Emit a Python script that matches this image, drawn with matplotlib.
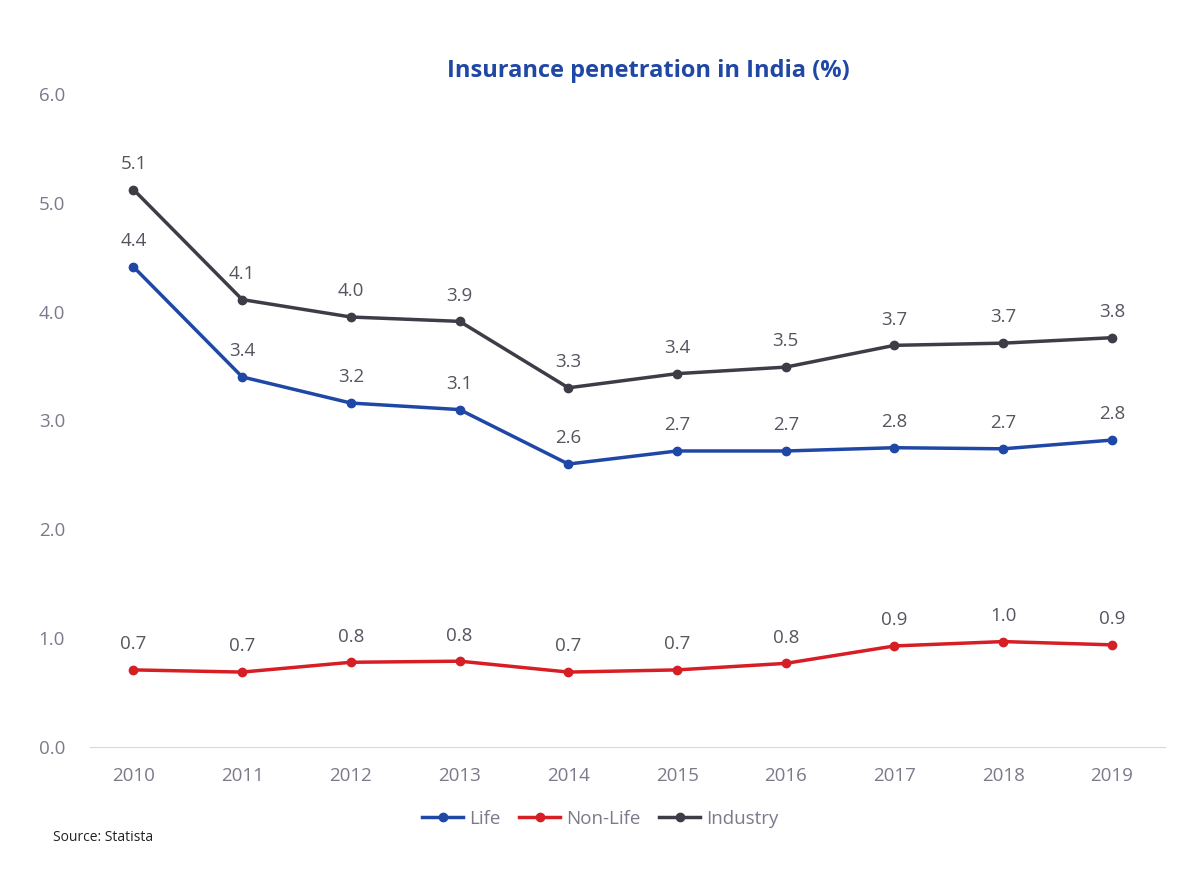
import matplotlib
matplotlib.use("Agg")
import matplotlib.pyplot as plt

years = ["2010","2011","2012","2013","2014","2015","2016","2017","2018","2019"]
life = [4.41,3.40,3.16,3.10,2.60,2.72,2.72,2.75,2.74,2.82]
nonlife = [0.71,0.69,0.78,0.79,0.69,0.71,0.77,0.93,0.97,0.94]
industry = [5.12,4.11,3.95,3.91,3.30,3.43,3.49,3.69,3.71,3.76]
life_lbl = ["4.4","3.4","3.2","3.1","2.6","2.7","2.7","2.8","2.7","2.8"]
nonlife_lbl = ["0.7","0.7","0.8","0.8","0.7","0.7","0.8","0.9","1.0","0.9"]
industry_lbl = ["5.1","4.1","4.0","3.9","3.3","3.4","3.5","3.7","3.7","3.8"]

plt.rcParams['font.family'] = ['Open Sans', 'DejaVu Sans']
fig = plt.figure(figsize=(12, 8.76), dpi=100)
ax = fig.add_axes([0.075, 0.147, 0.896, 0.746])
grey = "#7a7a8a"
x = list(range(len(years)))
series = [("Life", life, life_lbl, "#1f47a6"),
          ("Non-Life", nonlife, nonlife_lbl, "#d71e25"),
          ("Industry", industry, industry_lbl, "#3d3d47")]
for name, vals, lbls, c in series:
    ax.plot(x, vals, color=c, lw=2.5, marker="o", ms=6, label=name)
    for xi, v, l in zip(x, vals, lbls):
        ax.annotate(l, (xi, v), xytext=(0, 12), textcoords="offset points",
                    ha="center", va="bottom", fontsize=13.5, color="#555560")
ax.set_ylim(0, 6)
ax.set_yticks([0,1,2,3,4,5,6])
ax.set_yticklabels([f"{t:.1f}" for t in range(7)])
ax.set_xlim(-0.4, 9.49)
ax.set_xticks(x)
ax.set_xticklabels(years)
for s in ["top","right","left"]:
    ax.spines[s].set_visible(False)
ax.spines["bottom"].set_color("#d9d9d9")
ax.tick_params(axis="both", length=0, labelsize=13.5, colors=grey, pad=14)
ax.tick_params(axis="y", pad=18)
fig.text(0.54, 0.912, "Insurance penetration in India (%)", ha="center",
         fontsize=17, fontweight="bold", color="#1f47a6")
fig.legend(loc="center", bbox_to_anchor=(0.5, 0.065), ncol=3, frameon=False,
           fontsize=13.5, labelcolor=grey, handlelength=2.2, columnspacing=1.0, handletextpad=0.3)
fig.text(0.044, 0.04, "Source: Statista", fontsize=10, color="#222222")
fig.savefig("out.png", dpi=100, facecolor="white")
